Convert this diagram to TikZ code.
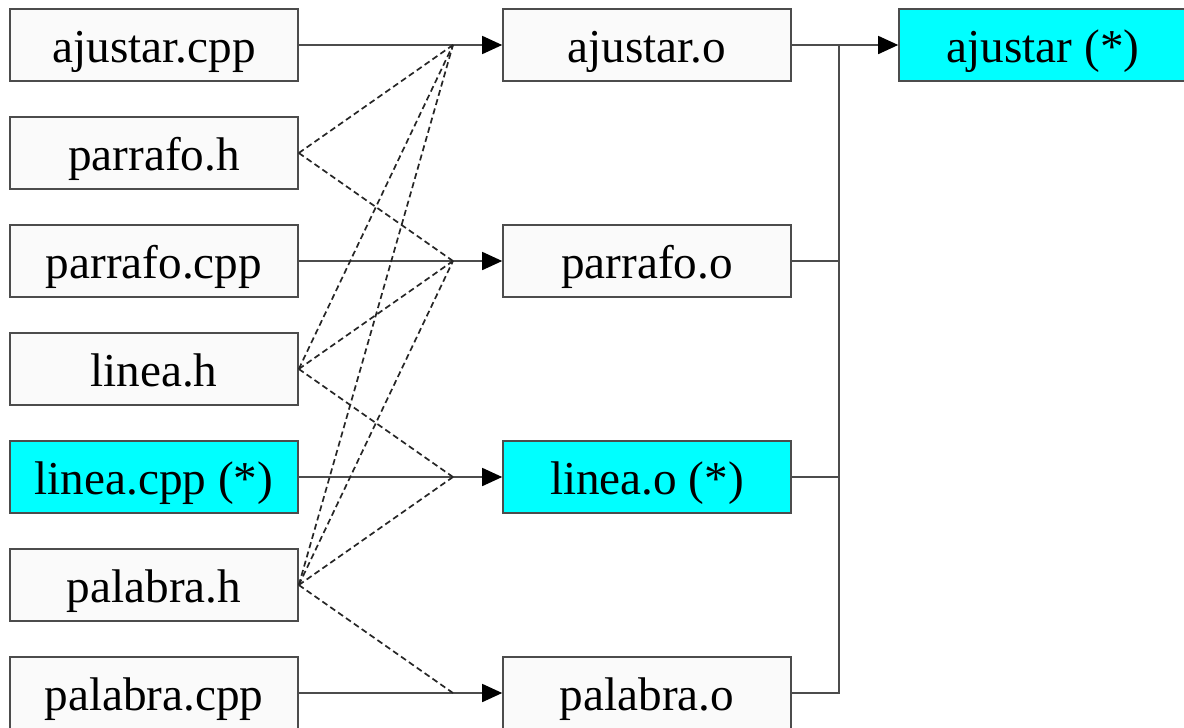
\documentclass[tikz,border=0pt]{standalone}
\usepackage{fontspec}
\setmainfont{Liberation Serif}
\usetikzlibrary{arrows.meta}
\definecolor{aqua}{RGB}{0,255,255}
\begin{document}
\begin{tikzpicture}[x=0.5pt,y=-0.5pt,
  file/.style={draw=black!70, line width=0.8pt, fill=black!2, minimum width=144pt,
    minimum height=36pt, inner sep=0pt, text height=17pt, text depth=0pt,
    font=\fontsize{23.6}{28}\selectfont},
  hot/.style={file, fill=aqua},
  link/.style={draw=black!70, line width=0.8pt},
  dep/.style={draw=black!85, line width=0.85pt, dash pattern=on 3pt off 1.8pt},
  tip/.style={-{Triangle[length=10pt,width=9pt,color=black]}}
]
\useasboundingbox (0,0) rectangle (1184,728);
\clip (0,0) rectangle (1184,728);

% sources and headers
\node[file] (acpp) at (154,45)  {ajustar.cpp};
\node[file] (ph)   at (154,153) {parrafo.h};
\node[file] (pcpp) at (154,261) {parrafo.cpp};
\node[file] (lh)   at (154,369) {linea.h};
\node[hot]  (lcpp) at (154,477) {linea.cpp (*)};
\node[file] (bh)   at (154,585) {palabra.h};
\node[file] (bcpp) at (154,693) {palabra.cpp};

% object files
\node[file] (ao) at (647,45)  {ajustar.o};
\node[file] (po) at (647,261) {parrafo.o};
\node[hot]  (lo) at (647,477) {linea.o (*)};
\node[file] (bo) at (647,693) {palabra.o};

% executable
\node[hot] (exe) at (1043,45) {ajustar (*)};

% compile steps
\draw[link,tip] (acpp.east) -- (ao.west);
\draw[link,tip] (pcpp.east) -- (po.west);
\draw[link,tip] (lcpp.east) -- (lo.west);
\draw[link,tip] (bcpp.east) -- (bo.west);

% header dependencies meet the compile lines
\coordinate (ja) at (453,45);
\coordinate (jp) at (453,261);
\coordinate (jl) at (453,477);
\coordinate (jb) at (453,693);
\draw[dep] (ph.east) -- (ja);
\draw[dep] (ph.east) -- (jp);
\draw[dep] (lh.east) -- (ja);
\draw[dep] (lh.east) -- (jp);
\draw[dep] (lh.east) -- (jl);
\draw[dep] (bh.east) -- (ja);
\draw[dep] (bh.east) -- (jp);
\draw[dep] (bh.east) -- (jl);
\draw[dep] (bh.east) -- (jb);

% link step
\coordinate (bus) at (839,45);
\draw[link,tip] (ao.east) -- (exe.west);
\draw[link] (po.east) -- (po.east -| bus);
\draw[link] (lo.east) -- (lo.east -| bus);
\draw[link] (bo.east) -| (bus);
\end{tikzpicture}
\end{document}
